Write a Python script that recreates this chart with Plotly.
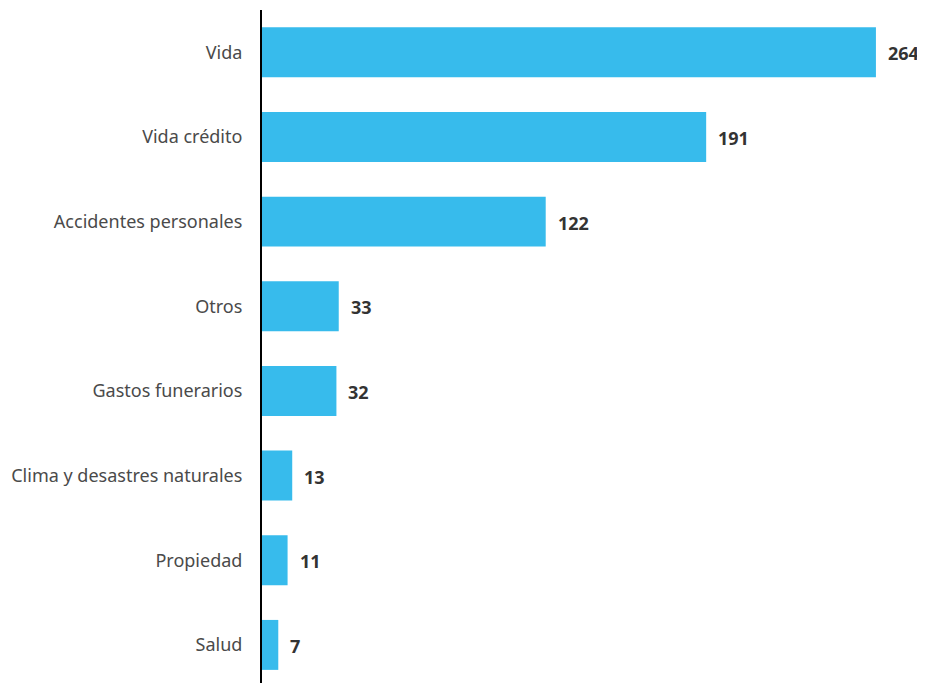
import plotly.graph_objects as go

categories = ["Vida", "Vida crédito", "Accidentes personales", "Otros",
              "Gastos funerarios", "Clima y desastres naturales", "Propiedad", "Salud"]
values = [264, 191, 122, 33, 32, 13, 11, 7]

fig = go.Figure()
fig.add_trace(go.Bar(
    x=values, y=categories, orientation="h",
    marker=dict(color="#37BBEC", line=dict(width=0)),
    hoverinfo="x+y",
))

for c, v in zip(categories, values):
    fig.add_annotation(x=v, y=c, text=f"<b>{v}</b>", showarrow=False,
                       xanchor="left", xshift=10, yshift=-1,
                       font=dict(family="Noto Sans", size=18, color="#333333"))

fig.update_layout(
    width=917, height=675,
    margin=dict(l=254, r=20, t=2, b=0),
    paper_bgcolor="white", plot_bgcolor="white",
    bargap=0.41,
    showlegend=False,
    font=dict(family="Noto Sans", size=18, color="#4a4a4a"),
)
fig.update_xaxes(range=[0, 276.5], visible=False, showgrid=False, zeroline=False)
fig.update_yaxes(
    categoryorder="array", categoryarray=categories,
    range=[7.45, -0.5],
    showline=True, linecolor="black", linewidth=2,
    showgrid=False, zeroline=False,
    ticks="outside", ticklen=14, tickcolor="rgba(0,0,0,0)",
    tickfont=dict(family="Noto Sans", size=18, color="#4a4a4a"),
)

fig.write_html("out.html")
